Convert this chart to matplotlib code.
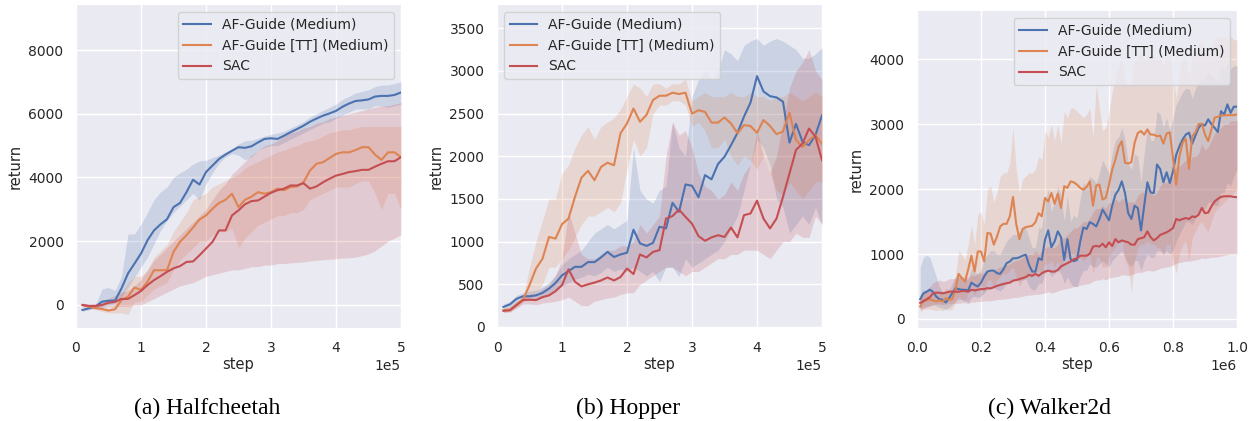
import numpy as np
import matplotlib
matplotlib.use("Agg")
import matplotlib.pyplot as plt

# ---------------- data ----------------
series_names = ["AF-Guide (Medium)", "AF-Guide [TT] (Medium)", "SAC"]
panel_titles = ["(a) Halfcheetah", "(b) Hopper", "(c) Walker2d"]

steps_hc = np.arange(1, 51) * 1e4
steps_hop = np.arange(1, 51) * 1e4
steps_wk = np.arange(1, 101) * 1e4

# Halfcheetah
hc_af_mean = [-156,-104,-52,104,135,135,520,990,1300,1615,2030,2340,2530,2690,3070,3200,3540,3930,3780,4170,4375,4580,4720,4840,4950,4930,4980,5100,5210,5230,5210,5310,5420,5520,5625,5750,5850,5940,6010,6090,6220,6320,6400,6420,6450,6540,6560,6560,6590,6670]
hc_af_low = [-200,-150,-100,-50,0,50,250,560,875,1190,1500,1920,2330,2650,2900,3100,3300,3500,3300,3800,4150,4450,4650,4750,4700,4550,4650,4850,4950,5000,5000,5100,5200,5300,5400,5500,5600,5700,5750,5850,5950,6050,6150,6150,6150,6250,6250,6200,6250,6300]
hc_af_high = [-120,-60,0,500,550,450,900,2230,2230,2540,2900,3300,3550,3700,4000,4150,4260,4420,4520,4540,4625,4700,4800,4900,5050,5150,5170,5230,5300,5350,5400,5450,5550,5650,5750,5900,6000,6100,6200,6300,6450,6550,6650,6700,6750,6850,6900,6900,6950,7000]
hc_tt_mean = [0,-50,-100,-125,-175,-135,155,260,550,470,730,1090,1090,1090,1665,1980,2190,2430,2680,2810,3020,3200,3300,3490,3070,3300,3400,3540,3490,3540,3650,3600,3700,3720,3850,4220,4430,4480,4610,4740,4790,4790,4860,4950,4950,4720,4550,4790,4790,4640]
hc_tt_low = [-50,-100,-150,-200,-250,-250,-250,-300,100,100,300,500,600,700,1100,1400,1600,1800,2000,2000,2200,2300,2300,2400,1800,2100,2300,2500,2600,2700,2800,2800,2900,2900,3000,3300,3400,3500,3600,3700,3700,3700,3800,3900,3900,3500,3000,3500,3500,3000]
hc_tt_high = [50,0,-50,-50,-100,0,400,700,900,900,1100,1500,1700,1900,2300,2600,2900,3300,3400,3500,3700,3800,3900,4000,4100,4300,4400,4500,4600,4700,4800,4850,4950,5000,5100,5150,5200,5300,5400,5450,5500,5500,5550,5600,5600,5600,5600,5600,5600,5600]
hc_sac_mean = [0,-30,-30,0,70,100,190,190,310,440,625,780,905,1040,1150,1220,1350,1365,1560,1770,1980,2340,2340,2810,2970,3160,3260,3280,3400,3520,3600,3650,3750,3750,3820,3650,3720,3850,3960,4060,4110,4170,4200,4240,4240,4340,4430,4510,4510,4640]
hc_sac_low = [-60,-80,-90,-80,-60,-50,-40,-50,0,0,100,200,300,400,500,600,650,700,800,900,950,1000,1050,1100,1100,1150,1200,1200,1250,1250,1300,1300,1320,1340,1350,1380,1400,1420,1440,1450,1470,1480,1500,1550,1600,1700,1850,2000,2100,2200]
hc_sac_high = [60,30,50,100,200,300,400,450,600,800,1100,1400,1600,1800,2000,2200,2400,2600,2800,3000,3300,3600,3800,4100,4300,4500,4700,4850,5000,5050,5150,5300,5400,5450,5550,5600,5700,5750,5850,5900,5950,6000,6050,6100,6150,6200,6250,6250,6300,6350]

# Hopper
hop_af_mean = [235,265,330,360,360,370,400,450,515,605,655,705,705,760,760,815,880,820,850,870,1140,980,950,985,1175,1155,1455,1350,1670,1655,1520,1780,1730,1910,1995,2130,2275,2465,2630,2940,2760,2705,2690,2640,2160,2380,2170,2130,2250,2480]
hop_af_low = [200,230,290,310,310,320,340,380,420,480,520,560,580,620,600,640,700,650,680,650,700,650,600,650,530,700,700,590,800,700,750,800,850,900,1000,1150,1300,1600,1900,2200,2100,1900,1500,1400,1100,1200,1300,1200,1400,1200]
hop_af_high = [270,300,370,400,420,430,470,520,610,730,800,850,900,1000,1100,1150,1200,1150,1200,1250,2100,1600,1500,1450,1600,1650,2400,2100,2000,2700,2900,3000,2900,3000,3250,3200,3120,3300,3350,3380,3300,3350,3380,3350,3300,3250,3150,3150,3200,3270]
hop_tt_mean = [195,205,265,320,490,685,800,1055,1035,1205,1270,1525,1750,1830,1720,1875,1925,1895,2270,2385,2560,2405,2485,2660,2710,2710,2745,2730,2745,2500,2540,2520,2395,2395,2455,2385,2270,2365,2355,2275,2425,2355,2260,2290,2510,2190,2110,2190,2250,2145]
hop_tt_low = [170,180,230,290,350,400,500,700,700,800,900,1050,1200,1300,1300,1350,1400,1350,1450,1850,2200,2000,2100,2500,2600,2600,2650,2650,2600,2350,2400,2300,2100,2100,2200,2000,1900,2000,1950,1850,2000,1800,1600,1550,1700,1600,1500,1600,1700,1700]
hop_tt_high = [220,230,300,350,700,1000,1250,1500,1500,1800,1900,2100,2250,2350,2200,2350,2400,2450,2550,2700,2850,2800,2700,2850,2850,2800,2850,2850,2900,2650,2700,2750,2700,2700,2700,2750,2700,2700,2750,2700,2700,2650,2700,2700,2750,2700,2650,2700,2750,2700]
hop_sac_mean = [190,195,255,315,320,315,350,370,420,490,675,530,475,500,520,545,580,545,585,685,620,850,815,880,900,1270,1300,1375,1290,1210,1065,1010,1050,1075,1055,1165,1050,1310,1330,1480,1270,1155,1270,1525,1800,2075,2150,2325,2230,1955]
hop_sac_low = [170,175,220,270,270,260,280,290,300,320,350,300,250,250,300,320,340,350,380,400,400,500,550,600,650,700,700,650,600,650,650,700,750,800,800,850,850,900,900,900,850,800,900,1000,1000,1100,1050,1050,1300,1200]
hop_sac_high = [210,215,290,360,380,400,450,500,600,800,1350,1100,850,800,800,850,900,900,950,950,1000,1200,1100,1200,1300,2000,2400,2250,2300,2100,1800,1650,1600,1500,1550,1700,1600,1800,1900,2300,2000,1800,2000,2400,2800,3000,3100,3250,3000,2900]

# Walker2d
wk_af_mean = [305,395,420,450,420,345,305,295,255,320,395,475,460,450,450,440,560,525,500,560,
              655,730,745,745,705,695,765,860,885,935,935,950,975,990,835,730,730,935,910,1220,
              1365,1105,1195,1350,1260,910,1230,920,890,910,1195,1410,1385,1490,1465,1425,1540,1685,1605,1520,
              1745,1915,1990,2120,1940,1630,1540,1745,1710,1365,1745,2105,1950,1940,2380,2310,2105,2260,2095,2275,
              2530,2660,2765,2840,2870,2700,2825,2945,3000,2980,3075,3000,2945,2880,3200,3150,3305,3175,3270,3270]
wk_af_low = [150,180,200,200,220,200,180,170,150,180,220,280,300,300,280,250,330,350,330,350,
             400,450,480,480,450,430,480,550,580,600,600,580,600,620,500,450,450,550,550,700,
             750,650,700,750,700,550,650,550,500,500,650,750,750,850,800,800,850,900,850,800,
             900,950,1000,1050,950,850,800,900,900,750,900,1000,950,950,1050,1050,1000,1050,1000,1050,
             1200,1300,1400,1500,1500,1450,1550,1650,1700,1700,1800,1800,1750,1750,1950,1950,2100,2050,2200,2300]
wk_af_high = [800,950,980,950,800,650,500,420,400,450,550,650,650,620,620,600,780,720,700,760,
              900,1000,1050,1050,1000,1000,1100,1200,1250,1300,1300,1350,1400,1400,1250,1100,1100,1400,1400,1800,
              2000,1650,1800,2050,1900,1500,1900,1500,1600,1550,1850,2100,2050,2200,2150,2100,2250,2450,2350,2250,
              2550,2750,2800,2950,2750,2400,2300,2550,2500,2100,2550,2950,2750,2750,3200,3150,2950,3100,2900,3100,
              3300,3400,3500,3550,3550,3400,3550,3650,3700,3700,3800,3750,3700,3650,3900,3850,3950,3850,3900,3900]
wk_tt_mean = [190,295,285,305,285,270,285,270,320,295,305,450,695,630,575,765,975,730,1040,1040,
              885,1325,1315,1145,1270,1425,1465,1465,1580,1880,1465,1230,1385,1415,1425,1435,1490,1630,1580,1865,
              1810,1940,1775,1930,1710,2045,2020,2120,2105,2070,2020,1990,2035,2120,1745,2055,2070,1840,1865,2070,
              2300,2455,2650,2740,2405,2395,2415,2715,2865,2895,2840,2920,2840,2840,2815,2825,2700,2855,2875,2480,
              2070,2505,2715,2775,2310,2815,2875,3000,3010,2840,2740,2920,3100,3115,3135,3135,3140,3140,3140,3150]
wk_tt_low = [100,150,150,150,140,130,140,130,150,140,150,250,350,300,280,400,500,350,500,500,
             400,600,600,500,600,650,700,700,750,800,650,500,600,650,650,650,700,750,700,850,
             850,900,800,900,750,950,950,1000,1000,950,950,900,950,1000,700,950,950,800,800,950,
             1050,1100,1200,1250,900,800,400,900,1100,1150,1150,1200,1150,1150,1100,1100,1000,1150,1150,900,
             700,1000,1150,1200,900,1250,1350,1450,1500,1400,1350,1500,1650,1700,1750,1800,1850,1900,1950,2000]
wk_tt_high = [300,450,430,450,420,400,420,400,480,450,450,650,1050,1000,900,1150,1450,1150,1600,1650,
              1450,2000,2050,1800,1950,2200,2250,2250,2400,2950,2300,1950,2150,2200,2250,2250,2300,2500,2450,2900,
              2800,3000,2750,3000,2700,3200,3100,3250,3250,3200,3150,3100,3150,3250,2800,3600,3250,2900,2950,3200,
              3500,3700,3900,4000,3650,3600,3600,3950,4050,4100,4000,4100,4000,4050,4000,4000,3900,4050,4050,3750,
              3400,3800,4000,4050,3700,4050,4100,4250,4250,4100,4000,4200,4300,4350,4350,4350,4300,4350,4300,4300]
wk_sac_mean = [250,270,305,335,395,405,405,395,405,420,420,420,420,430,430,420,450,440,450,460,
               460,475,470,490,510,525,540,550,560,590,600,615,630,645,680,665,695,665,705,730,
               745,730,730,755,810,835,860,885,920,935,975,975,975,1005,1115,1125,1115,1160,1105,1180,
               1125,1230,1180,1210,1195,1180,1145,1145,1230,1245,1260,1350,1260,1210,1245,1295,1315,1335,1365,1400,
               1540,1520,1540,1555,1540,1580,1570,1605,1710,1630,1640,1735,1810,1850,1880,1890,1890,1890,1880,1875]
wk_sac_low = [150,160,180,200,220,230,230,220,230,240,240,240,240,250,250,240,260,260,270,270,
              280,280,280,290,300,300,310,310,320,330,330,340,350,360,370,370,380,380,390,400,
              420,400,410,430,450,460,470,480,500,500,520,530,540,550,580,600,600,620,600,630,
              640,650,660,680,680,670,680,700,720,720,730,750,740,740,760,780,790,800,810,830,
              860,870,880,890,890,900,910,920,940,930,940,950,950,960,970,980,990,1000,1000,1000]
wk_sac_high = [380,420,450,500,560,580,600,580,590,620,620,630,640,650,650,640,680,670,690,700,
               720,720,730,750,780,800,810,830,850,880,900,910,950,970,1000,990,1050,1000,1050,1100,
               1120,1100,1100,1150,1250,1250,1300,1350,1400,1400,1450,1500,1500,1550,1650,1700,1700,1750,1700,1800,
               1750,1850,1800,1850,1850,1800,1800,1800,1900,1950,1950,2050,1950,1900,1950,2050,2100,2100,2150,2200,
               2350,2350,2400,2450,2400,2500,2500,2550,2700,2600,2650,2750,2850,2900,2950,3000,3000,3050,3050,3050]

# ---------------- style ----------------
plt.rcParams.update({
    "font.family": ["DejaVu Sans"],
    "axes.facecolor": "#EAEAF2",
    "axes.edgecolor": "white",
    "axes.grid": True,
    "grid.color": "white",
    "grid.linewidth": 1.0,
    "axes.axisbelow": True,
    "xtick.major.size": 0,
    "ytick.major.size": 0,
    "xtick.major.pad": 9,
    "ytick.major.pad": 9,
    "xtick.labelsize": 10,
    "ytick.labelsize": 10,
    "axes.labelsize": 10.5,
    "xtick.color": "#262626",
    "ytick.color": "#262626",
    "axes.labelcolor": "#262626",
    "text.color": "#262626",
})
colors = ["#4C72B0", "#DD8452", "#C44E52"]

fig = plt.figure(figsize=(12.51, 4.21), dpi=100)
W, H = 1251, 421
boxes = [(76, 5, 401, 328), (497, 5, 822, 328), (917, 11, 1237, 328)]
ylims = [(-722, 9412), (-12, 3773), (-139, 4744)]
xlims = [(0, 5e5), (0, 5e5), (0, 1e6)]
leg_locs = ["upper right", "upper left", "upper right"]
caption_x = [207, 628, 1050]

panels = [
    (steps_hc, [(hc_af_mean, hc_af_low, hc_af_high), (hc_tt_mean, hc_tt_low, hc_tt_high), (hc_sac_mean, hc_sac_low, hc_sac_high)]),
    (steps_hop, [(hop_af_mean, hop_af_low, hop_af_high), (hop_tt_mean, hop_tt_low, hop_tt_high), (hop_sac_mean, hop_sac_low, hop_sac_high)]),
    (steps_wk, [(wk_af_mean, wk_af_low, wk_af_high), (wk_tt_mean, wk_tt_low, wk_tt_high), (wk_sac_mean, wk_sac_low, wk_sac_high)]),
]

for i, (steps, data) in enumerate(panels):
    l, t, r, b = boxes[i]
    ax = fig.add_axes([l / W, (H - b) / H, (r - l) / W, (b - t) / H])
    for spine in ax.spines.values():
        spine.set_visible(False)
    for j, (m, lo, hi) in enumerate(data):
        ax.fill_between(steps, lo, hi, color=colors[j], alpha=0.2, linewidth=0)
        ax.plot(steps, m, color=colors[j], lw=1.5, label=series_names[j])
    ax.set_xlim(*xlims[i])
    ax.set_ylim(*ylims[i])
    ax.ticklabel_format(axis="x", style="sci", scilimits=(0, 0), useMathText=False)
    ax.xaxis.get_offset_text().set_fontsize(10)
    ax.set_xlabel("step", labelpad=2)
    ax.set_ylabel("return", labelpad=4)
    leg = ax.legend(loc=leg_locs[i], fontsize=10, frameon=True, facecolor="#EAEAF2",
                    edgecolor="#CCCCCC", framealpha=0.8, handlelength=2.0)
    fig.text(caption_x[i] / W, 1 - 408 / H, panel_titles[i], ha="center", va="center",
             fontsize=17, family="Liberation Serif", color="black")

fig.savefig("out.png", dpi=100)
